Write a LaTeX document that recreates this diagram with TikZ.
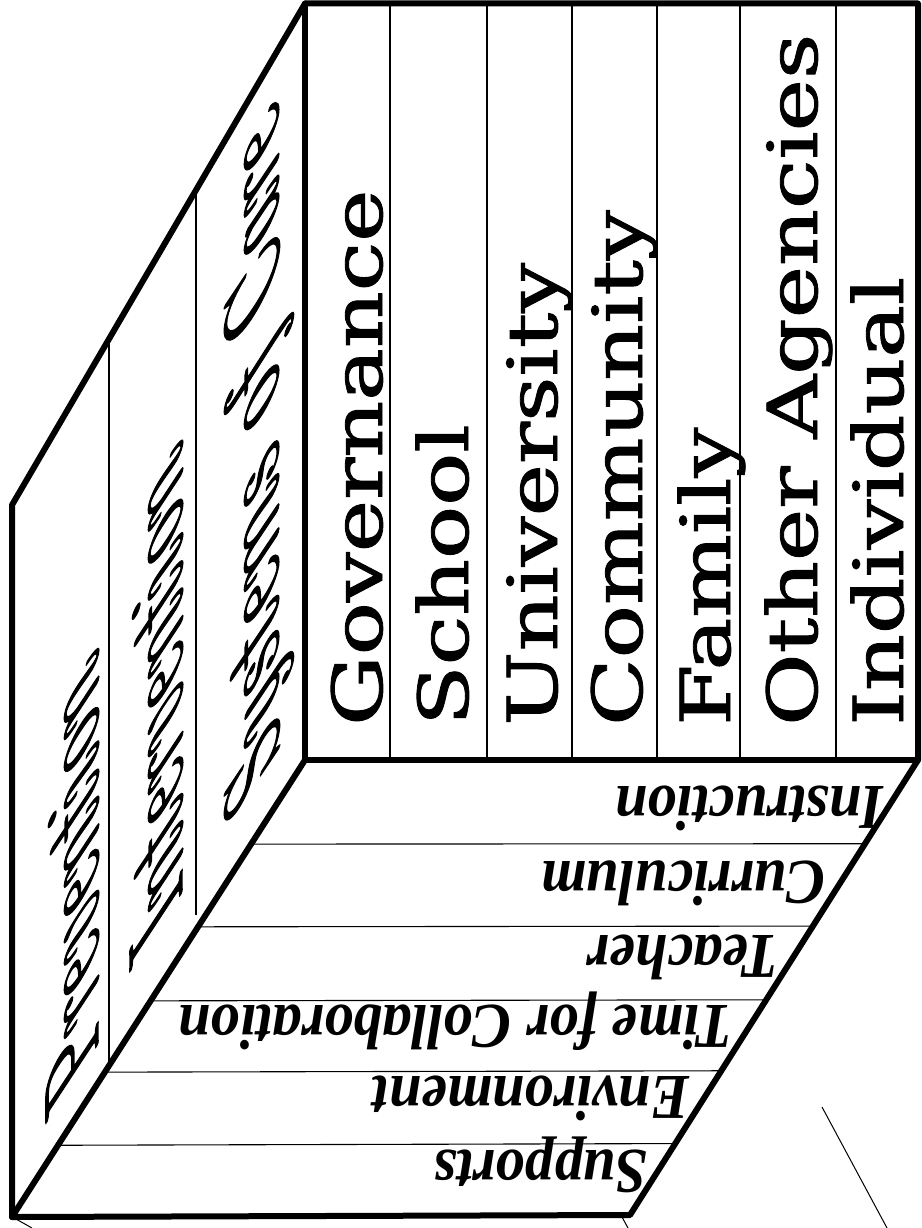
\documentclass[tikz,border=0pt]{standalone}
\usepackage{fontspec}
\usetikzlibrary{calc}
\newfontfamily\frontfont{DejaVu Serif}[FakeBold=1.2]
\newfontfamily\bottomfont{Liberation Serif}
\newfontfamily\sidefont{Latin Modern Roman}[FakeBold=2]
\begin{document}
\begin{tikzpicture}[x=1pt,y=-1pt,
  edge/.style={line width=6pt,line join=round,line cap=round},
  divider/.style={line width=1.1pt},
  stray/.style={line width=1pt},
  fronttext/.style={anchor=base west,rotate=90,inner sep=0pt,font=\frontfont\fontsize{69}{80}\selectfont},
  bottomtext/.style={anchor=base west,rotate=180,inner sep=0pt,text height=0.72em,text depth=0.1em,font=\bottomfont\bfseries\itshape\fontsize{64}{74}\selectfont},
  sidetext/.style={anchor=base west,inner sep=0pt,transform shape,font=\sidefont\itshape\fontsize{60}{70}\selectfont}]
\fill[white] (0,0) rectangle (921,1228);
\useasboundingbox (0,0) rectangle (921,1228);
% corners
\coordinate (ftl) at (305,3.5);
\coordinate (ftr) at (918,3.5);
\coordinate (fbr) at (918,760);
\coordinate (fbl) at (305,760);
\coordinate (ltl) at (12,505);
\coordinate (lbl) at (12,1217);
\coordinate (bbr) at (630,1215);
% front dividers
\foreach \x in {390,487,572,657,740,836}
  \draw[divider] (\x,3.5) -- (\x,760);
% left face dividers
\coordinate (d1t) at ($(ftl)!0.669!(ltl)$);
\coordinate (d1b) at ($(fbl)!0.669!(lbl)$);
\coordinate (d2t) at ($(ftl)!0.372!(ltl)$);
\coordinate (d2y) at (0,915);
\draw[divider] (d1t) -- (d1b);
\draw[divider] (d2t) -- (d2t |- d2y);
% bottom face dividers
\foreach \t in {0.184,0.365,0.527,0.683,0.843}
  \draw[divider] ($(fbl)!\t!(lbl)$) -- ($(fbr)!\t!(bbr)$);
% outline
\draw[edge] (ftl) -- (ftr) -- (fbr) -- (bbr) -- (lbl) -- (ltl) -- cycle;
\draw[edge] (ftl) -- (fbl) -- (fbr);
\draw[edge] (fbl) -- (lbl);
% front texts
\node[fronttext] (tgov) at (382,726) {\scalebox{1.28}[1]{Governance}};
\node[fronttext] (tsch) at (468,726) {\scalebox{1.28}[1]{School}};
\node[fronttext] (tuni) at (557,726) {\scalebox{1.28}[1]{University}};
\node[fronttext] (tcom) at (642,726) {\scalebox{1.28}[1]{Community}};
\node[fronttext] (tfam) at (730,726) {\scalebox{1.28}[1]{Family}};
\node[fronttext] (toth) at (817,726) {\scalebox{1.28}[1]{Other Agencies}};
\node[fronttext] (tind) at (903,726) {\scalebox{1.28}[1]{Individual}};
% bottom texts
\node[bottomtext] (tins) at (884,786) {\scalebox{0.91}[1]{Instruction}};
\node[bottomtext] (tcur) at (826,861) {\scalebox{0.91}[1]{Curriculum}};
\node[bottomtext] (ttea) at (779,935) {\scalebox{0.91}[1]{Teacher}};
\node[bottomtext] (ttim) at (733,1005) {\scalebox{0.91}[1]{Time for Collaboration}};
\node[bottomtext] (tenv) at (690,1076) {\scalebox{0.91}[1]{Environment}};
\node[bottomtext] (tsup) at (648,1150) {\scalebox{0.91}[1]{Supports}};
% side texts
\begin{scope}[shift={(98,1050)},cm={0,1.47,-1.27,-2.3,(0,0)}]
  \node[sidetext] (tprev) at (0,0) {Prevention};
\end{scope}
\begin{scope}[shift={(182,898)},cm={0,1.47,-1.27,-2.3,(0,0)}]
  \node[sidetext] (tint) at (0,0) {Intervention};
\end{scope}
\begin{scope}[shift={(278,757)},cm={0,1.6,-1.27,-2.3,(0,0)}]
  \node[sidetext] (tsys) at (0,0) {Systems of Care};
\end{scope}
% stray lines
\coordinate (s1a) at (822,1107);
\coordinate (s1b) at (887,1228);
\coordinate (s2a) at (16,1219);
\coordinate (s2b) at (32,1228);
\coordinate (s3a) at (622,1217);
\coordinate (s3b) at (628,1228);
\draw[stray] (s1a) -- (s1b);
\draw[stray] (s2a) -- (s2b);
\draw[stray] (s3a) -- (s3b);
\end{tikzpicture}
\end{document}
